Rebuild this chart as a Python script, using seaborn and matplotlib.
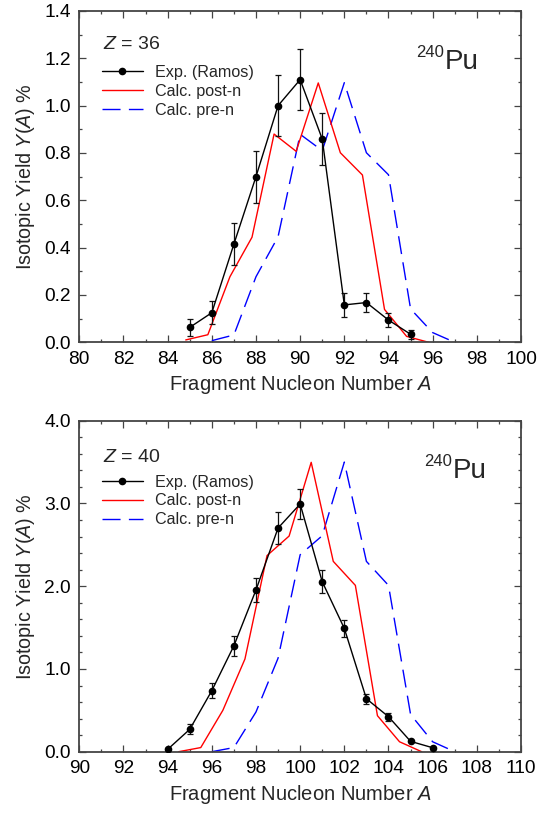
import numpy as np
import pandas as pd
import matplotlib
matplotlib.use("Agg")
import matplotlib.pyplot as plt
import seaborn as sns
from matplotlib.ticker import MultipleLocator, FormatStrFormatter
from matplotlib.lines import Line2D

sns.set_theme(style="ticks")
plt.rcParams['font.family'] = ['Liberation Sans', 'DejaVu Sans']
plt.rcParams['mathtext.fontset'] = 'custom'
plt.rcParams['mathtext.rm'] = 'Liberation Sans'
plt.rcParams['mathtext.it'] = 'Liberation Sans:italic'

# ---------------- data: Z = 36 ----------------
z36_exp_A = [85, 86, 87, 88, 89, 90, 91, 92, 93, 94, 95]
z36_exp_y = [0.063, 0.125, 0.415, 0.700, 1.000, 1.110, 0.859, 0.158, 0.168, 0.094, 0.034]
z36_exp_err = [0.037, 0.049, 0.088, 0.110, 0.130, 0.130, 0.110, 0.052, 0.042, 0.031, 0.020]
z36_post_A = [84.82, 85.82, 86.82, 87.82, 88.82, 89.82, 90.82, 91.82, 92.82, 93.82, 94.82, 95.82]
z36_post_y = [0.010, 0.032, 0.277, 0.444, 0.880, 0.807, 1.096, 0.801, 0.707, 0.139, 0.025, 0.0]
z36_pre_A = [86, 87, 88, 89, 90, 91, 92, 93, 94, 95, 96, 97]
z36_pre_y = [0.007, 0.031, 0.277, 0.446, 0.879, 0.810, 1.097, 0.801, 0.708, 0.141, 0.041, 0.0]

# ---------------- data: Z = 40 ----------------
z40_exp_A = [94, 95, 96, 97, 98, 99, 100, 101, 102, 103, 104, 105, 106]
z40_exp_y = [0.028, 0.27, 0.737, 1.28, 1.954, 2.703, 2.993, 2.054, 1.49, 0.64, 0.423, 0.125, 0.048]
z40_exp_err = [0.0, 0.06, 0.09, 0.12, 0.15, 0.19, 0.18, 0.14, 0.105, 0.06, 0.05, 0.0, 0.0]
z40_post_A = [94.5, 95.5, 96.5, 97.5, 98.5, 99.5, 100.5, 101.5, 102.5, 103.5, 104.5, 105.5]
z40_post_y = [0.0, 0.05, 0.50, 1.12, 2.37, 2.606, 3.497, 2.30, 2.01, 0.435, 0.12, 0.0]
z40_pre_A = [96, 97, 98, 99, 100, 101, 102, 103, 104, 105, 106, 107]
z40_pre_y = [0.0, 0.05, 0.48, 1.13, 2.38, 2.61, 3.50, 2.30, 2.01, 0.45, 0.12, 0.0]

W, H = 553, 813
fig = plt.figure(figsize=(W / 100, H / 100), dpi=100)

def fx(px):
    return px / W

def fy(py):
    return 1 - py / H

SPINE = '#444444'
DASH = (0, (13, 6))

panels = [
    dict(rect=(79.3, 11, 521, 342.3), xlim=(80, 100), ylim=(0, 1.4), ymaj=0.2, ymin=0.1,
         exp=(z36_exp_A, z36_exp_y, z36_exp_err), post=(z36_post_A, z36_post_y),
         pre=(z36_pre_A, z36_pre_y), ztxt='$Z$ = 36', ztxt_pos=(103, 49),
         pu_pos=(445, 69.3), leg_top=65),
    dict(rect=(79.3, 420.7, 521, 751.7), xlim=(90, 110), ylim=(0, 4.0), ymaj=1.0, ymin=0.2,
         exp=(z40_exp_A, z40_exp_y, z40_exp_err), post=(z40_post_A, z40_post_y),
         pre=(z40_pre_A, z40_pre_y), ztxt='$Z$ = 40', ztxt_pos=(103, 461.7),
         pu_pos=(453, 478.3), leg_top=474.5),
]

for p in panels:
    l, t, r, b = p['rect']
    ax = fig.add_axes([fx(l), fy(b), fx(r) - fx(l), (b - t) / H])
    A, Y, E = p['exp']
    dpost = pd.DataFrame({'A': p['post'][0], 'Y': p['post'][1]})
    dpre = pd.DataFrame({'A': p['pre'][0], 'Y': p['pre'][1]})
    dexp = pd.DataFrame({'A': A, 'Y': Y, 'E': E})

    sns.lineplot(data=dpre, x='A', y='Y', ax=ax, color='#0000ff', lw=1.0,
                 linestyle=DASH, estimator=None, sort=False, legend=False)
    sns.lineplot(data=dpost, x='A', y='Y', ax=ax, color='#ff0000', lw=1.0,
                 estimator=None, sort=False, legend=False)
    ax.errorbar(dexp['A'], dexp['Y'], yerr=dexp['E'], fmt='none', ecolor='#111111',
                elinewidth=0.9, capsize=2.2, capthick=0.9, zorder=3)
    sns.lineplot(data=dexp, x='A', y='Y', ax=ax, color='black', lw=1.0, marker='o',
                 markersize=5.5, markeredgecolor='black', markeredgewidth=0,
                 estimator=None, sort=False, legend=False, zorder=4)

    ax.set_xlim(*p['xlim'])
    ax.set_ylim(*p['ylim'])
    ax.xaxis.set_major_locator(MultipleLocator(2))
    ax.xaxis.set_minor_locator(MultipleLocator(1))
    ax.yaxis.set_major_locator(MultipleLocator(p['ymaj']))
    ax.yaxis.set_minor_locator(MultipleLocator(p['ymin']))
    ax.yaxis.set_major_formatter(FormatStrFormatter('%.1f'))
    ax.tick_params(which='both', direction='in', top=True, right=True, color=SPINE,
                   labelsize=13.8, labelcolor='black')
    ax.tick_params(which='major', length=5, width=0.9, pad=6)
    ax.tick_params(which='minor', length=2.5, width=0.9)
    for s in ax.spines.values():
        s.set_color(SPINE)
        s.set_linewidth(1.3)
    ax.set_xlabel('Fragment Nucleon Number $A$', fontsize=14.5, labelpad=4)
    ax.set_ylabel('Isotopic Yield $Y(A)$ %', fontsize=14.2, labelpad=5)

    handles = [
        Line2D([], [], color='black', lw=1.0, marker='o', markersize=5.5, markeredgewidth=0),
        Line2D([], [], color='#ff0000', lw=1.0),
        Line2D([], [], color='#0000ff', lw=1.0, linestyle=DASH),
    ]
    labels = ['Exp. (Ramos)', 'Calc. post-n', 'Calc. pre-n']
    fs = 11.6
    leg = ax.legend(handles, labels, loc='upper left',
                    bbox_to_anchor=(fx(102), fy(p['leg_top'])),
                    bbox_transform=fig.transFigure, frameon=False, fontsize=fs,
                    handlelength=29.5 / fs, handletextpad=8.6 / fs, labelspacing=0.24,
                    borderpad=0, borderaxespad=0)

    fig.text(fx(p['ztxt_pos'][0]), fy(p['ztxt_pos'][1]), p['ztxt'], fontsize=14,
             ha='left', va='baseline')
    pux, puy = p['pu_pos']
    fig.text(fx(pux), fy(puy), 'Pu', fontsize=20, ha='left', va='baseline')
    fig.text(fx(pux - 1), fy(puy - 12), '240', fontsize=12, ha='right', va='baseline')

fig.savefig('out.png', dpi=100)
